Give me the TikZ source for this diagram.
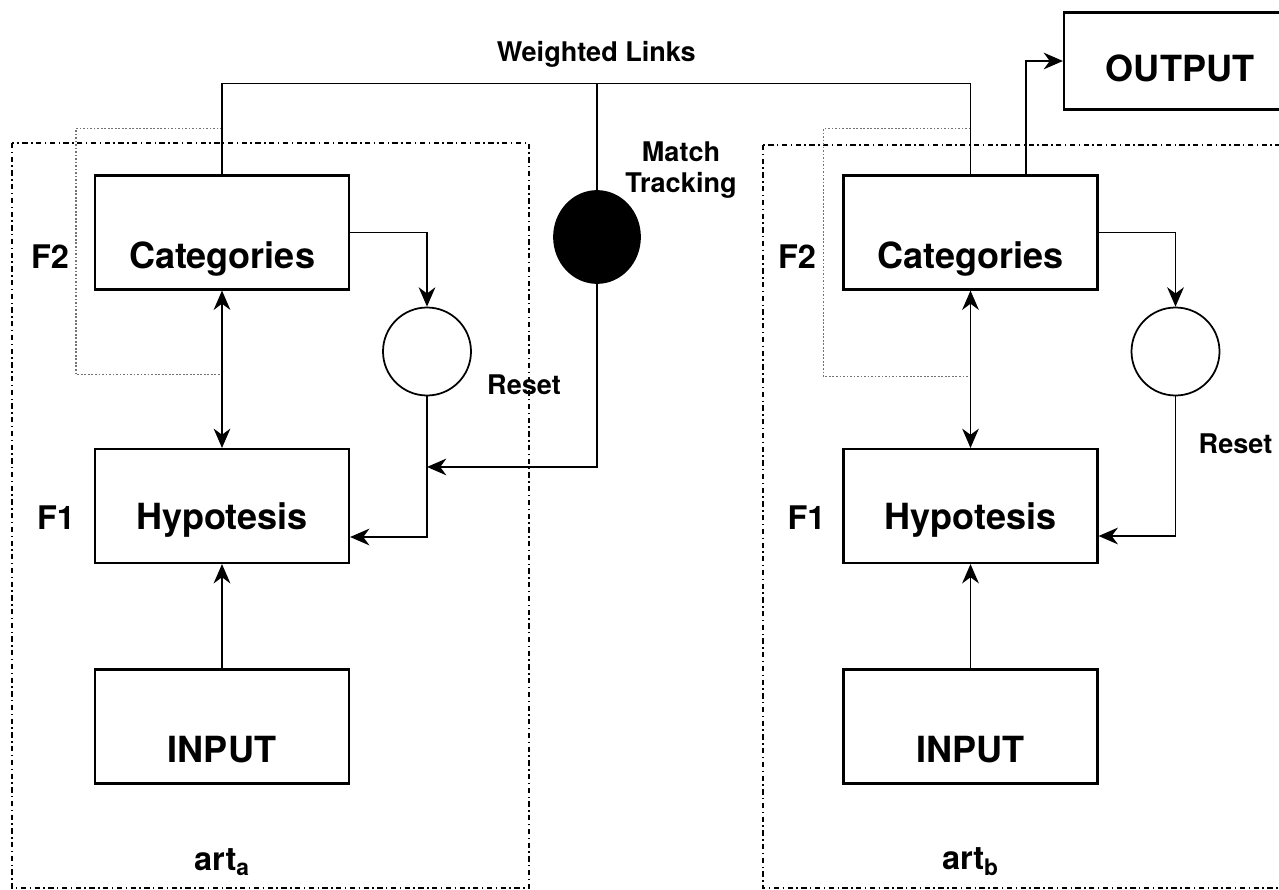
\documentclass[tikz,border=0pt]{standalone}
\usepackage{fontspec}
\setmainfont{TeX Gyre Heros}
\usetikzlibrary{arrows.meta,shapes.geometric}

\begin{document}
\begin{tikzpicture}[node distance=5.47cm, auto, >={Stealth[length=11pt,width=9.5pt,inset=3.5pt]}]
    % Define styles
    \tikzstyle{layer} = [rectangle, draw, line width=1.2pt, minimum width=5.08cm, minimum height=2.28cm, text height=1.44cm, text depth=0cm, font=\fontsize{20.5}{24}\selectfont\bfseries]
    \tikzstyle{reset} = [circle, draw, line width=1pt, minimum size=1.76cm, inner sep=0pt]
    \tikzstyle{tracker} = [ellipse, draw, fill=black, line width=1pt, minimum width=1.72cm, minimum height=1.84cm, inner sep=0pt]
    \tikzstyle{tag} = [font=\fontsize{18.5}{21}\selectfont\bfseries]
    \tikzstyle{note} = [font=\fontsize{15.4}{18}\selectfont\bfseries, align=center]
    \tikzstyle{link} = [draw, line width=1pt]
    \tikzstyle{line} = [draw, ->, line width=1pt]
    \tikzstyle{dline} = [draw, <->, line width=1pt]
    \tikzstyle{frame} = [draw, line width=1pt, dash pattern=on 3pt off 2pt on 0.8pt off 2pt]
    \tikzstyle{bracket} = [draw, black!55, line width=1pt, densely dotted]

    % Page size
    \useasboundingbox (0,0) rectangle (25.58,-17.78);
    \clip (0,0) rectangle (25.58,-17.78);

    % Place nodes
    \node [layer] at (4.44,-4.65) (catA) {Categories};
    \node [layer, text height=0.94cm, below of=catA] (hypA) {Hypotesis};
    \node [layer, below of=hypA, node distance=4.41cm] (inA) {INPUT};
    \node [layer, right of=catA, node distance=14.97cm] (catB) {Categories};
    \node [layer, text height=0.94cm, below of=catB] (hypB) {Hypotesis};
    \node [layer, below of=hypB, node distance=4.41cm] (inB) {INPUT};
    \node [layer, minimum width=4.64cm, minimum height=1.94cm, text height=0.82cm, above of=catB, node distance=3.43cm, xshift=4.19cm] (output) {OUTPUT};
    \node [reset, right of=catA, node distance=4.1cm, yshift=-2.38cm] (rstA) {};
    \node [reset, right of=catB, node distance=4.1cm, yshift=-2.38cm] (rstB) {};
    \node [tracker, right of=catA, node distance=7.5cm, yshift=-0.09cm] (match) {};

    % Labels
    \node [tag, left of=catA, node distance=3.44cm, yshift=-0.49cm] (f2A) {F2};
    \node [tag, left of=hypA, node distance=3.32cm, yshift=-0.24cm] (f1A) {F1};
    \node [tag, left of=catB, node distance=3.47cm, yshift=-0.49cm] (f2B) {F2};
    \node [tag, left of=hypB, node distance=3.28cm, yshift=-0.24cm] (f1B) {F1};
    \node [tag, below of=inA, node distance=2.71cm] (artA) {art\textsubscript{a}};
    \node [tag, below of=inB, node distance=2.71cm] (artB) {art\textsubscript{b}};
    \node [note, right of=rstA, node distance=1.94cm, yshift=-0.66cm] (resetA) {Reset};
    \node [note, right of=rstB, node distance=1.2cm, yshift=-1.84cm] (resetB) {Reset};
    \node [note, right of=match, node distance=1.68cm, yshift=1.34cm] (mtlabel) {Match\\Tracking};

    % Frames
    \draw [frame] (0.24,-2.86) rectangle (10.58,-17.76);
    \draw [frame] (15.26,-2.9) rectangle (26,-17.76);
    \draw [bracket] ([yshift=0.92cm]catA.north) -| ([xshift=-0.36cm, yshift=-1.68cm]catA.south west) -- ([yshift=-1.68cm]catA.south);
    \draw [bracket] ([yshift=0.92cm]catB.north) -| ([xshift=-0.38cm, yshift=-1.72cm]catB.south west) -- ([yshift=-1.72cm]catB.south);

    % Draw edges
    \path [link] (catA.north) -- ++(0,1.82) coordinate (wlA) -- node [note, above=0.18cm] {Weighted Links} (wlA -| catB.north) -- (catB.north);
    \path [link] (match.north) -- (match.north |- wlA);
    \path [line] (catA.east) -| (rstA.north);
    \path [line] (rstA.south) |- ([yshift=-0.62cm]hypA.east);
    \coordinate (mtA) at ([yshift=-0.38cm]hypA.north);
    \path [line] (match.south) |- (mtA -| rstA.south);
    \path [dline] (catA) -- (hypA);
    \path [line] (inA) -- (hypA);
    \path [line] (catB.east) -| (rstB.north);
    \path [line] (rstB.south) |- ([yshift=-0.6cm]hypB.east);
    \path [dline] (catB) -- (hypB);
    \path [line] (inB) -- (hypB);
    \path [line] ([xshift=1.11cm]catB.north) |- (output.west);
\end{tikzpicture}
\end{document}
